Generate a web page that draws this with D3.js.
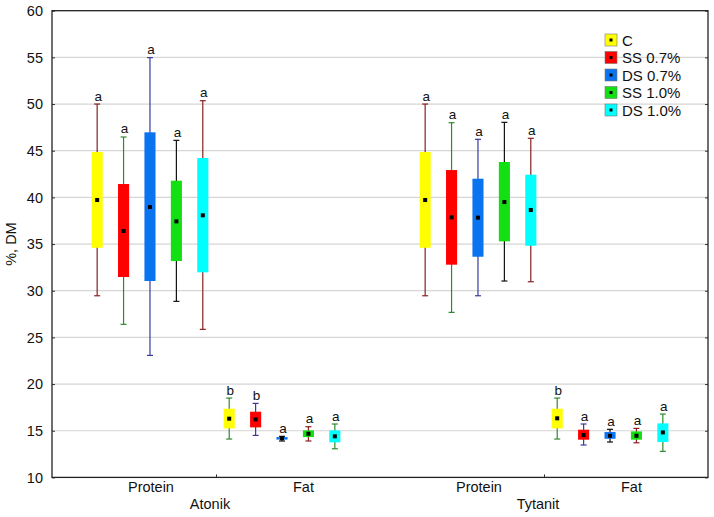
<!DOCTYPE html>
<html>
<head>
<meta charset="utf-8">
<script src="https://cdn.jsdelivr.net/npm/d3@7"></script>
<style>
  html, body { margin: 0; padding: 0; background: #fff; }
  svg { display: block; font-family: "Liberation Sans", Arial, sans-serif; }
</style>
</head>
<body>
<svg id="chart" width="714" height="517"></svg>
<script>
// ---------- DATA ----------
const series = ["C", "SS 0.7%", "DS 0.7%", "SS 1.0%", "DS 1.0%"];
const products = ["Atonik", "Tytanit"];
const parts = ["Protein", "Fat"];
const yTicks = [10, 15, 20, 25, 30, 35, 40, 45, 50, 55, 60];
const boxColors = ["#ffff00", "#ff0000", "#0a74f0", "#12e012", "#00ffff"];
const whiskerColors = ["#8b1f1f", "#2f8a2f", "#3a3a9a", "#111111"];

// groups order: Atonik-Protein, Atonik-Fat, Tytanit-Protein, Tytanit-Fat
const means = [
  [39.72, 36.40, 38.97, 37.43, 38.08],
  [16.29, 16.22, 14.20, 14.68, 14.40],
  [39.72, 37.86, 37.83, 39.50, 38.65],
  [16.33, 14.54, 14.46, 14.46, 14.82]
];
const boxHigh = [
  [44.86, 41.43, 46.97, 41.79, 44.22],
  [17.36, 17.04, 14.32, 15.04, 15.04],
  [44.86, 42.93, 42.00, 43.79, 42.43],
  [17.36, 15.11, 14.86, 14.93, 15.79]
];
const boxLow = [
  [34.60, 31.47, 31.04, 33.18, 31.97],
  [15.25, 15.36, 14.05, 14.32, 13.76],
  [34.60, 32.79, 33.64, 35.29, 34.82],
  [15.25, 14.04, 14.14, 14.04, 13.79]
];
const whiskHigh = [
  [50.00, 46.47, 54.97, 46.11, 50.36],
  [18.50, 17.93, 14.40, 15.43, 15.72],
  [50.00, 48.00, 46.22, 48.04, 46.33],
  [18.50, 15.72, 15.15, 15.25, 16.79]
];
const whiskLow = [
  [29.46, 26.40, 23.07, 28.86, 25.86],
  [14.11, 14.50, 13.90, 13.90, 13.07],
  [29.46, 27.68, 29.46, 31.04, 30.96],
  [14.11, 13.47, 13.79, 13.71, 12.79]
];
const letters = [
  ["a", "a", "a", "a", "a"],
  ["b", "b", "a", "a", "a"],
  ["a", "a", "a", "a", "a"],
  ["b", "a", "a", "a", "a"]
];

// ---------- LAYOUT ----------
const svg = d3.select("#chart");
const margin = { left: 52, right: 6, top: 10.7, bottom: 39.6 };
const W = 714, H = 517;
const x0 = margin.left, x1 = W - margin.right;
const yTop = margin.top, yBot = H - margin.bottom;
const fs = 14.5;

const y = d3.scaleLinear().domain([10, 60]).range([yBot, yTop]);
const xOuter = d3.scaleBand().domain(products).range([x0, x1]).padding(0);
const xInner = d3.scalePoint().domain(parts).range([0, xOuter.bandwidth()]).padding(0.742);
const innerStep = xInner.step();
const xSub = d3.scalePoint().domain(series).range([-innerStep * 0.4, innerStep * 0.4]);
const xLabel = d3.scalePoint().domain(parts).range([0, xOuter.bandwidth()]).padding(0.575).align(0.564);
const boxW = xSub.step() * 0.42;
const capW = 6;
const meanS = 4;

// gridlines
svg.append("g").selectAll("line")
  .data(yTicks.filter(t => t > 10 && t < 60))
  .join("line")
  .attr("x1", x0).attr("x2", x1)
  .attr("y1", d => y(d)).attr("y2", d => y(d))
  .attr("stroke", "#d6d6d6").attr("stroke-width", 1.2);

// y axis
const yAxis = svg.append("g").attr("transform", `translate(${x0},0)`)
  .call(d3.axisLeft(y).tickValues(yTicks).tickSize(-3).tickPadding(9));
yAxis.select(".domain").remove();
yAxis.selectAll("line").attr("stroke", "#333");
yAxis.selectAll("text").attr("font-size", fs).attr("fill", "#111")
  .attr("font-family", "Liberation Sans, Arial, sans-serif");

// right side ticks
svg.append("g").attr("transform", `translate(${x1},0)`)
  .call(d3.axisRight(y).tickValues(yTicks).tickSize(-3).tickFormat(""))
  .call(g => g.select(".domain").remove())
  .selectAll("line").attr("stroke", "#333");

// bottom ticks at outer band centers
svg.append("g").attr("transform", `translate(0,${yBot})`)
  .call(d3.axisBottom(d3.scalePoint().domain(products).range([x0, x1]).padding(0.5)).tickSize(-3).tickFormat(""))
  .call(g => g.select(".domain").remove())
  .selectAll("line").attr("stroke", "#333");

// frame
svg.append("rect")
  .attr("x", x0).attr("y", yTop).attr("width", x1 - x0).attr("height", yBot - yTop)
  .attr("fill", "none").attr("stroke", "#222").attr("stroke-width", 1.3);

// category labels
products.forEach((p, pi) => {
  parts.forEach(part => {
    svg.append("text")
      .attr("x", xOuter(p) + xLabel(part))
      .attr("y", yBot + 15)
      .attr("text-anchor", "middle")
      .attr("font-size", fs)
      .attr("fill", "#111")
      .text(part);
  });
  svg.append("text")
    .attr("x", xOuter(p) + xOuter.bandwidth() / 2 - 6)
    .attr("y", yBot + 32)
    .attr("text-anchor", "middle")
    .attr("font-size", fs)
    .attr("fill", "#111")
    .text(p);
});

// y title
svg.append("text")
  .attr("transform", `translate(16,${(yTop + yBot) / 2}) rotate(-90)`)
  .attr("text-anchor", "middle")
  .attr("font-size", fs)
  .attr("fill", "#111")
  .text("%, DM");

// boxes
const records = [];
products.forEach((p, pi) => {
  parts.forEach((part, ki) => {
    const g = pi * parts.length + ki;
    series.forEach((s, si) => {
      records.push({
        cx: xOuter(p) + xInner(part) + xSub(s),
        mean: means[g][si], lo: boxLow[g][si], hi: boxHigh[g][si],
        wl: whiskLow[g][si], wh: whiskHigh[g][si],
        letter: letters[g][si],
        fill: boxColors[si],
        wcol: whiskerColors[(ki * series.length + si) % whiskerColors.length]
      });
    });
  });
});

const marks = svg.append("g");
const bg = marks.selectAll("g.box").data(records).join("g").attr("class", "box");
bg.append("line")
  .attr("x1", d => d.cx).attr("x2", d => d.cx)
  .attr("y1", d => y(d.wl)).attr("y2", d => y(d.wh))
  .attr("stroke", d => d.wcol).attr("stroke-width", 1.2);
bg.append("line")
  .attr("x1", d => d.cx - capW / 2).attr("x2", d => d.cx + capW / 2)
  .attr("y1", d => y(d.wh)).attr("y2", d => y(d.wh))
  .attr("stroke", d => d.wcol).attr("stroke-width", 1.2);
bg.append("line")
  .attr("x1", d => d.cx - capW / 2).attr("x2", d => d.cx + capW / 2)
  .attr("y1", d => y(d.wl)).attr("y2", d => y(d.wl))
  .attr("stroke", d => d.wcol).attr("stroke-width", 1.2);
bg.append("rect")
  .attr("x", d => d.cx - boxW / 2).attr("width", boxW)
  .attr("y", d => y(d.hi)).attr("height", d => y(d.lo) - y(d.hi))
  .attr("fill", d => d.fill);
bg.append("rect")
  .attr("x", d => d.cx - meanS / 2).attr("y", d => y(d.mean) - meanS / 2)
  .attr("width", meanS).attr("height", meanS)
  .attr("fill", "#000");
bg.append("text")
  .attr("x", d => d.cx + 1).attr("y", d => y(d.wh) - 3.5)
  .attr("text-anchor", "middle")
  .attr("font-size", 13.5)
  .attr("fill", "#111")
  .text(d => d.letter);

// legend
const leg = svg.append("g").attr("transform", "translate(605,40)");
const li = leg.selectAll("g").data(series).join("g")
  .attr("transform", (d, i) => `translate(0,${i * 17.5})`);
li.append("rect")
  .attr("x", 0).attr("y", -6).attr("width", 12).attr("height", 12)
  .attr("fill", (d, i) => boxColors[i]).attr("stroke", "#777").attr("stroke-width", 0.6);
li.append("rect")
  .attr("x", 4.5).attr("y", -1.5).attr("width", 3).attr("height", 3).attr("fill", "#000");
li.append("text")
  .attr("x", 17).attr("y", 5.5)
  .attr("font-size", 15).attr("fill", "#111")
  .text(d => d);
</script>
</body>
</html>
